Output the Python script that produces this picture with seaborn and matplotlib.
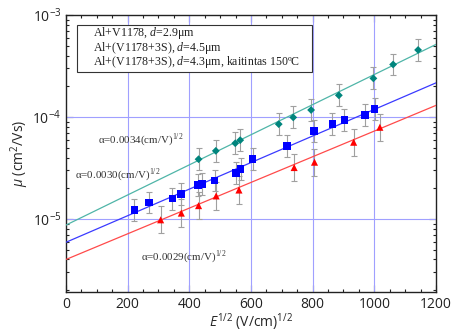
import matplotlib
matplotlib.use("Agg")
import matplotlib.pyplot as plt
import matplotlib.patches as mpatches
from matplotlib.ticker import MultipleLocator, LogLocator, NullFormatter
import seaborn as sns
import numpy as np
import pandas as pd

# Data (x = E^1/2, y = mobility)
teal_x = [430, 486, 549, 565, 690, 737, 795, 885, 997, 1061, 1142]
teal_y = [3.85e-5, 4.65e-5, 5.52e-5, 5.92e-5, 8.5e-5, 9.9e-5, 1.17e-4, 1.63e-4, 2.39e-4, 3.27e-4, 4.54e-4]

blue_x = [222, 270, 345, 373, 429, 442, 482, 551, 566, 605, 716, 804, 864, 903, 970, 1001]
blue_y = [1.22e-5, 1.45e-5, 1.58e-5, 1.76e-5, 2.14e-5, 2.19e-5, 2.38e-5, 2.81e-5, 3.07e-5,
          3.87e-5, 5.17e-5, 7.24e-5, 8.53e-5, 9.29e-5, 1.05e-4, 1.20e-4]

red_x = [307, 374, 430, 487, 561, 740, 806, 933, 1018]
red_y = [9.8e-6, 1.14e-5, 1.35e-5, 1.68e-5, 1.92e-5, 3.19e-5, 3.60e-5, 5.65e-5, 7.92e-5]

# relative error factor (bars are symmetric on log scale)
err_factor = {"teal": 1.28, "blue": 1.28, "red": 1.36}

# fit lines mu = mu0 * exp(alpha * E^1/2)
fit_alpha = {"teal": 0.0034, "blue": 0.0030, "red": 0.0029}
fit_mu0 = {"teal": 8.7e-6, "blue": 5.9e-6, "red": 4.0e-6}
fit_range = [0, 1200]

legend_lines = [r"Al+V1178, $\mathsf{d}$=2.9μm",
                r"Al+(V1178+3S), $\mathsf{d}$=4.5μm",
                r"Al+(V1178+3S), $\mathsf{d}$=4.3μm, kaitintas 150ºC"]

sns.set_style("ticks")
plt.rcParams["font.family"] = ["Open Sans", "DejaVu Sans"]
plt.rcParams["mathtext.fontset"] = "custom"
plt.rcParams["mathtext.rm"] = "Liberation Serif"
plt.rcParams["mathtext.it"] = "Open Sans:italic"
plt.rcParams["mathtext.sf"] = "Liberation Serif:italic"  # used for the italic d in the legend

fig, ax = plt.subplots(figsize=(4.57, 3.36), dpi=100)
fig.subplots_adjust(left=0.1444, right=0.954, top=0.9554, bottom=0.131)

series = [("teal", teal_x, teal_y, "#00857d", "#4fb5a8", "D", 16),
          ("blue", blue_x, blue_y, "#0000ff", "#3a3aff", "s", 30),
          ("red", red_x, red_y, "#ff0000", "#ff4a4a", "^", 26)]

for name, xs, ys, mcol, lcol, mk, ms in series:
    xs = np.array(xs)
    ys = np.array(ys)
    f = err_factor[name]
    ax.errorbar(xs, ys, yerr=[ys - ys / f, ys * f - ys], fmt="none",
                ecolor="#a0a0a0", elinewidth=0.8, capsize=2, capthick=0.8, zorder=2)
    fx = np.array(fit_range)
    fit = pd.DataFrame({"x": fx, "y": fit_mu0[name] * np.exp(fit_alpha[name] * fx)})
    sns.lineplot(data=fit, x="x", y="y", ax=ax, color=lcol, lw=0.9, zorder=3)
    pts = pd.DataFrame({"x": xs, "y": ys})
    sns.scatterplot(data=pts, x="x", y="y", ax=ax, color=mcol, marker=mk, s=ms,
                    edgecolor="none", zorder=4)

ax.set_yscale("log")
ax.set_xlim(0, 1200)
ax.set_ylim(1.92e-6, 1e-3)

ax.xaxis.set_major_locator(MultipleLocator(200))
ax.xaxis.set_minor_locator(MultipleLocator(50))
ax.yaxis.set_major_locator(LogLocator(base=10, numticks=10))
ax.yaxis.set_minor_locator(LogLocator(base=10, subs=np.arange(2, 10), numticks=20))
ax.yaxis.set_minor_formatter(NullFormatter())

ax.tick_params(which="both", direction="in", top=True, right=True, labelsize=10,
               colors="#222222", width=0.8)
ax.tick_params(which="major", length=5)
ax.tick_params(which="minor", length=2.5)
for sp in ax.spines.values():
    sp.set_linewidth(1.0)
    sp.set_color("#222222")

# grid only at inner majors
for gx in [200, 400, 600, 800, 1000]:
    ax.axvline(gx, color="#a0a0ff", lw=0.8, zorder=1)
for gy in [1e-4, 1e-5]:
    ax.axhline(gy, color="#a0a0ff", lw=0.8, zorder=1)

ax.set_xlabel(r"$E^{\mathdefault{1/2}}$ (V/cm)$^{\mathdefault{1/2}}$", fontsize=10, labelpad=0)
ax.set_ylabel(r"$\mu$ (cm$^{\mathdefault{2}}$/Vs)", fontsize=10, labelpad=1)

# legend box (text only)
ax.add_patch(mpatches.Rectangle((0.0297, 0.794), 0.6353, 0.170, transform=ax.transAxes,
                                facecolor="white", edgecolor="#333333", lw=0.8, zorder=5))
for i, line in enumerate(legend_lines):
    ax.text(0.073, 0.935 - i * 0.053, line, transform=ax.transAxes, va="center", ha="left",
            family="Liberation Serif", fontsize=8.6, color="#222222", zorder=6)

# slope annotations
ax.text(104, 6.04e-5, r"α=0.0034(cm/V)$^{1/2}$", family="Liberation Serif", fontsize=7.9,
        color="#333333", va="center")
ax.text(29, 2.70e-5, r"α=0.0030(cm/V)$^{1/2}$", family="Liberation Serif", fontsize=7.9,
        color="#333333", va="center")
ax.text(243, 4.24e-6, r"α=0.0029(cm/V)$^{1/2}$", family="Liberation Serif", fontsize=7.9,
        color="#333333", va="center")

fig.savefig("out.png", dpi=100)
plt.close(fig)
